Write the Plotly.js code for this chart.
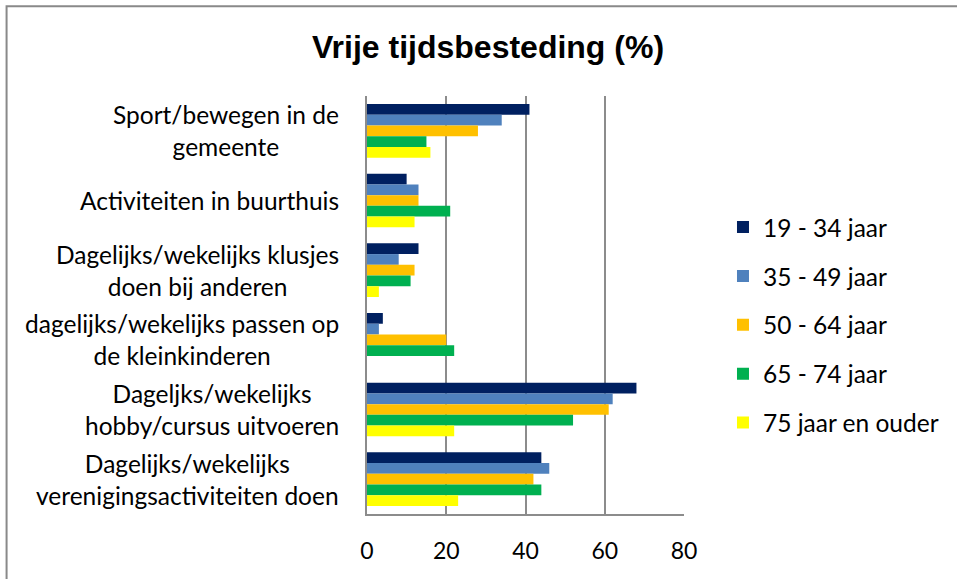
<!DOCTYPE html>
<html>
<head>
<meta charset="utf-8">
<script src="https://cdn.plot.ly/plotly-3.0.1.min.js"></script>
<style>
  html, body { margin: 0; padding: 0; background: #ffffff; }
  #chart { width: 957px; height: 579px; }
</style>
</head>
<body>
<div id="chart"></div>
<script>
const categories = [
  "Sport/bewegen in de<br>gemeente",
  "Activiteiten in buurthuis",
  "Dagelijks/wekelijks klusjes<br>doen bij anderen",
  "dagelijks/wekelijks passen op<br>de kleinkinderen",
  "Dageljks/wekelijks<br>hobby/cursus uitvoeren",
  "Dagelijks/wekelijks<br>verenigingsactiviteiten doen"
];
const seriesNames = ["19 - 34 jaar", "35 - 49 jaar", "50 - 64 jaar", "65 - 74 jaar", "75 jaar en ouder"];
const age19_34 = [41, 10, 13, 4, 68, 44];
const age35_49 = [34, 13, 8, 3, 62, 46];
const age50_64 = [28, 13, 12, 20, 61, 42];
const age65_74 = [15, 21, 11, 22, 52, 44];
const age75plus = [16, 12, 3, 0, 22, 23];
const xTicks = [0, 20, 40, 60, 80];
const chartTitle = "Vrije tijdsbesteding (%)";

const seriesValues = [age19_34, age35_49, age50_64, age65_74, age75plus];
const colors = ["#002060", "#4F81BD", "#FFC000", "#00B050", "#FFFF00"];

const traces = seriesValues.map((vals, i) => ({
  type: "bar",
  orientation: "h",
  name: seriesNames[i],
  x: vals,
  y: categories,
  marker: { color: colors[i], line: { width: 0 } },
  legendgroup: "g" + i,
  hoverinfo: "x+name"
}));

const font = "Lato, 'Open Sans', sans-serif";

const annotations = categories.map(c => ({
  text: c,
  xref: "paper", yref: "y",
  x: -0.082, y: c,
  xanchor: "right", yanchor: "middle",
  align: "center",
  showarrow: false,
  font: { family: font, size: 24.5, color: "#000000" }
}));
annotations.push({
  text: "<b>" + chartTitle + "</b>",
  xref: "paper", yref: "paper",
  x: 0.382, y: 1.117,
  xanchor: "center", yanchor: "middle",
  showarrow: false,
  font: { family: "'Liberation Sans', Arial, sans-serif", size: 32, color: "#000000" }
});

const layout = {
  width: 957,
  height: 579,
  margin: { l: 367, r: 273, t: 96, b: 65, pad: 0 },
  paper_bgcolor: "#ffffff",
  plot_bgcolor: "#ffffff",
  barmode: "group",
  bargap: 0.23,
  bargroupgap: 0,
  xaxis: {
    range: [0, 80],
    tickvals: xTicks,
    ticktext: xTicks.map(String),
    showgrid: true,
    gridcolor: "#8c8c8c",
    gridwidth: 2,
    zeroline: false,
    showline: true,
    linecolor: "#8c8c8c",
    linewidth: 2,
    ticks: "",
    ticklabelstandoff: 15,
    tickfont: { family: font, size: 23, color: "#000000" },
    fixedrange: true
  },
  yaxis: {
    type: "category",
    autorange: "reversed",
    showticklabels: false,
    showgrid: false,
    zeroline: false,
    showline: true,
    linecolor: "#8c8c8c",
    linewidth: 2,
    ticks: "",
    fixedrange: true
  },
  showlegend: true,
  legend: {
    x: 1.123, y: 0.74,
    xanchor: "left", yanchor: "top",
    font: { family: font, size: 24.5, color: "#000000" },
    tracegroupgap: 14,
    itemclick: false,
    bgcolor: "rgba(0,0,0,0)"
  },
  annotations: annotations,
  shapes: [{
    type: "rect",
    xref: "paper", yref: "paper",
    x0: -1.137, x1: 1.9, y0: -0.3, y1: 1.2145,
    line: { color: "#898989", width: 2 },
    fillcolor: "rgba(0,0,0,0)",
    layer: "below"
  }]
};

Plotly.newPlot("chart", traces, layout, { displayModeBar: false, staticPlot: true });
</script>
</body>
</html>
